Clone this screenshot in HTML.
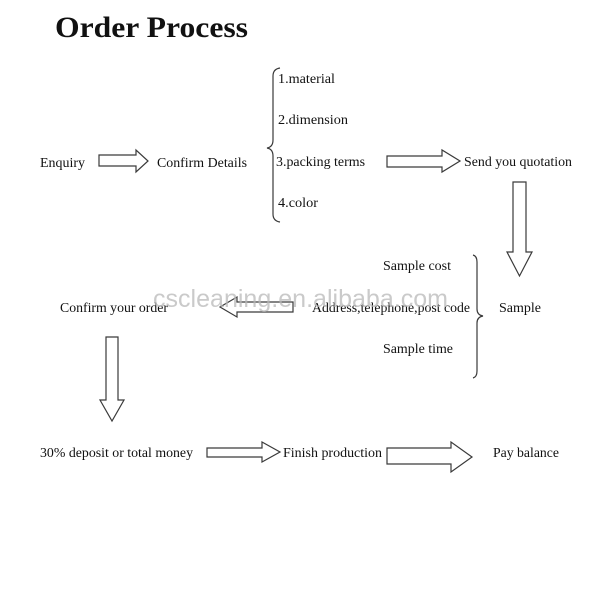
<!DOCTYPE html>
<html>
<head>
<meta charset="utf-8">
<style>
  html, body { margin: 0; padding: 0; background: #ffffff; }
  svg { display: block; }
  text { font-family: "Liberation Serif", serif; fill: #111; }
  .t { font-size: 14px; }
  .arrow { fill: #ffffff; stroke: #3a3a3a; stroke-width: 1.2; stroke-linejoin: miter; }
  .brace { fill: none; stroke: #3a3a3a; stroke-width: 1.2; }
</style>
</head>
<body>
<svg width="600" height="600" viewBox="0 0 600 600" xmlns="http://www.w3.org/2000/svg">
  <rect width="600" height="600" fill="#ffffff"/>

  <!-- Title -->
  <text x="55" y="37" font-size="30" font-weight="bold" textLength="193" lengthAdjust="spacingAndGlyphs">Order Process</text>

  <!-- Row 1 -->
  <text class="t" x="40" y="167" textLength="45" lengthAdjust="spacingAndGlyphs">Enquiry</text>
  <polygon class="arrow" points="99,155 136,155 136,150 148,161 136,172 136,166 99,166"/>
  <text class="t" x="157" y="167" textLength="90" lengthAdjust="spacingAndGlyphs">Confirm Details</text>

  <!-- Brace 1 -->
  <path class="brace" d="M280,68 Q273,69 273,76 L273,140 Q273,147 267,148 Q273,149 273,156 L273,214 Q273,221 280,222"/>
  <text class="t" x="278" y="83" textLength="57" lengthAdjust="spacingAndGlyphs">1.material</text>
  <text class="t" x="278" y="124" textLength="70" lengthAdjust="spacingAndGlyphs">2.dimension</text>
  <text class="t" x="276" y="166" textLength="89" lengthAdjust="spacingAndGlyphs">3.packing terms</text>
  <text class="t" x="278" y="207" textLength="40" lengthAdjust="spacingAndGlyphs">4.color</text>

  <polygon class="arrow" points="387,156 442,156 442,150 460,161 442,172 442,167 387,167"/>
  <text class="t" x="464" y="166" textLength="108" lengthAdjust="spacingAndGlyphs">Send you quotation</text>

  <!-- Down arrow right -->
  <polygon class="arrow" points="513,182 526,182 526,252 532,252 519.5,276 507,252 513,252"/>

  <!-- Sample section -->
  <text class="t" x="383" y="270" textLength="68" lengthAdjust="spacingAndGlyphs">Sample cost</text>
  <text class="t" x="312" y="312" textLength="158" lengthAdjust="spacingAndGlyphs">Address,telephone,post code</text>
  <text class="t" x="383" y="353" textLength="70" lengthAdjust="spacingAndGlyphs">Sample time</text>
  <path class="brace" d="M473,255 Q477,256 477,262 L477,309 Q477,315 483,316 Q477,317 477,323 L477,371 Q477,377 473,378"/>
  <text class="t" x="499" y="312" textLength="42" lengthAdjust="spacingAndGlyphs">Sample</text>

  <!-- Left arrow -->
  <polygon class="arrow" points="293,302 237,302 237,297 220,307 237,317 237,312 293,312"/>
  <text class="t" x="60" y="312" textLength="108" lengthAdjust="spacingAndGlyphs">Confirm your order</text>

  <!-- Down arrow left -->
  <polygon class="arrow" points="106,337 118,337 118,400 124,400 112,421 100,400 106,400"/>

  <!-- Bottom row -->
  <text class="t" x="40" y="457" textLength="153" lengthAdjust="spacingAndGlyphs">30% deposit or total money</text>
  <polygon class="arrow" points="207,448 262,448 262,442 280,452 262,462 262,457 207,457"/>
  <text class="t" x="283" y="457" textLength="99" lengthAdjust="spacingAndGlyphs">Finish production</text>
  <polygon class="arrow" points="387,448 451,448 451,442 472,457 451,472 451,464 387,464"/>
  <text class="t" x="493" y="457" textLength="66" lengthAdjust="spacingAndGlyphs">Pay balance</text>

  <!-- Watermark -->
  <text x="153" y="307" font-size="25" textLength="295" lengthAdjust="spacingAndGlyphs" style="font-family: 'Liberation Sans', sans-serif; fill: #b8b8b8; fill-opacity: 0.75;">cscleaning.en.alibaba.com</text>
</svg>
</body>
</html>
